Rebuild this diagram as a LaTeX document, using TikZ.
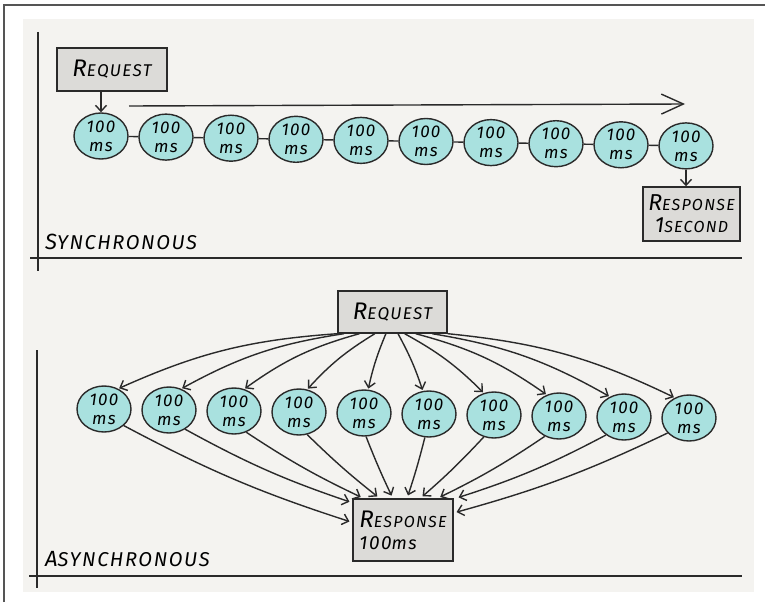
\documentclass[tikz,border=0pt]{standalone}
\usepackage{fontspec}
\setmainfont{Fira Sans}
\newfontfamily\handfont[LetterSpace=8]{Fira Sans}
\usetikzlibrary{calc,arrows.meta,shapes.geometric}
\definecolor{paper}{HTML}{F4F3F0}
\definecolor{ink}{HTML}{2A2A2A}
\definecolor{cellfill}{HTML}{A9E1DF}
\definecolor{boxfill}{HTML}{DCDBD8}
\definecolor{frameline}{HTML}{555555}
% hand-lettered word: a larger initial followed by smaller capitals
\newcommand\hw[4]{{\fontsize{#1}{#1}\selectfont #3}{\fontsize{#2}{#2}\selectfont #4}}
\begin{document}
\begin{tikzpicture}[x=1pt,y=-1pt,
  cell/.style={ellipse, draw=ink, line width=1.4pt, fill=cellfill,
    minimum width=54pt, minimum height=46pt, inner sep=0pt, align=center,
    font=\handfont\itshape\fontsize{17}{19}\selectfont},
  card/.style={draw=ink, line width=1.4pt, fill=boxfill, inner sep=0pt,
    align=center, font=\handfont\itshape\fontsize{16}{22}\selectfont},
  link/.style={draw=ink, line width=1.4pt},
  flow/.style={link, -{Straight Barb[length=6pt,width=11pt,line width=1.4pt]}},
  axisline/.style={draw=ink, line width=1.3pt},
  heading/.style={anchor=base west, inner sep=0pt, font=\handfont\itshape}]
\useasboundingbox (0,0) rectangle (765,602);
\fill[white] (0,0) rectangle (765,602);
\fill[paper] (23,19) rectangle (754,592);
\draw[frameline, line width=1.5pt] (4,602) -- (4,5) -- (765,5);

% ---------- synchronous ----------
\draw[axisline] (38,32) -- (38,271);
\draw[axisline] (30,258) -- (742,258);
\node[heading] (synlab) at (45,249) {\hw{22}{20}{S}{YNCHRONOUS}};

\node[card, minimum width=110pt, minimum height=43pt] (treq) at (112,69.5)
  {\hw{24}{17}{R}{EQUEST}};
\foreach \i [evaluate=\i as \xx using 101+(\i-1)*65, evaluate=\i as \yy using 136+(\i-1)*1.1] in {1,...,10}
  \node[cell] (t\i) at (\xx,\yy) {100\\ms};
\foreach \i [evaluate=\i as \j using int(\i+1)] in {1,...,9}
  \draw[link] (t\i) -- (t\j);
\draw[flow] (t1.north |- treq.south) -- (t1.north);

\coordinate (tl) at (129,106);
\coordinate (tr) at (685,104);
\draw[link, -{Straight Barb[length=22pt,width=20pt,line width=1.4pt]}] (tl) -- (tr);

\node[card, minimum width=97pt, minimum height=54pt] (tresp) at (691.5,214)
  {\hw{23}{16}{R}{ESPONSE}\\\hw{22}{16}{1}{SECOND}};
\draw[flow] (t10.south) -- (t10.south |- tresp.north);

% ---------- asynchronous ----------
\draw[axisline] (37,350) -- (37,588);
\draw[axisline] (29,576) -- (742,576);
\node[heading] (asynlab) at (45,566) {\hw{22}{20}{A}{SYNCHRONOUS}};

\node[card, minimum width=109pt, minimum height=42pt] (breq) at (392.5,312)
  {\hw{24}{17}{R}{EQUEST}};
\foreach \i [evaluate=\i as \xx using 104+(\i-1)*65, evaluate=\i as \yy using 409+(\i-1)*1.0] in {1,...,10}
  \node[cell] (b\i) at (\xx,\yy) {100\\ms};
\node[card, minimum width=100pt, minimum height=62pt, align=left] (bresp) at (403,530)
  {\hw{24}{16}{R}{ESPONSE}\\\hw{19}{18}{100}{ms}};

% fan-out from the request
\foreach \i/\f/\a/\b in {1/0.00/55/10, 2/0.06/60/10, 3/0.20/65/10, 4/0.34/70/8, 5/0.44/80/5,
                         6/0.55/105/-5, 7/0.61/115/-8, 8/0.71/120/-10, 9/0.86/125/-10, 10/1.00/125/-10}
  \draw[flow, shorten >=1pt] ($(breq.south west)!\f!(breq.south east)$) to[bend right=\b] (b\i.\a);

% fan-in to the response
\foreach \i/\a/\b in {1/-40/5, 2/-50/5}
  \draw[flow, shorten >=3pt] (b\i.\a) to[bend right=\b] ($(bresp.north west)!{0.38-(\i-1)*0.31}!(bresp.south west)$);
\foreach \i/\a/\f/\b in {3/-60/0.11/4, 4/-70/0.27/3, 5/-85/0.40/2, 6/-100/0.54/-2, 7/-115/0.67/-3, 8/-125/0.84/-4, 9/-135/1.02/-5}
  \draw[flow, shorten >=3pt] (b\i.\a) to[bend right=\b] ($(bresp.north west)!\f!(bresp.north east)$);
\draw[flow, shorten >=3pt] (b10.-145) to[bend left=5] ($(bresp.north east)!0.23!(bresp.south east)$);
\end{tikzpicture}
\end{document}
